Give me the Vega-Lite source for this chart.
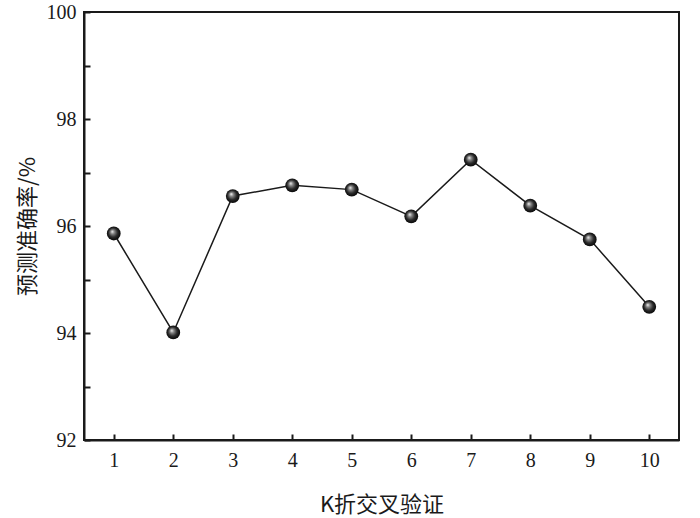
{
  "$schema": "https://vega.github.io/schema/vega-lite/v6.json",
  "autosize": "none",
  "width": 595,
  "height": 428,
  "padding": {"left": 84, "top": 12, "right": 21, "bottom": 78},
  "background": "white",
  "config": {
    "view": {"stroke": "#1a1a1a", "strokeWidth": 2},
    "axis": {
      "domainColor": "#1a1a1a",
      "domainWidth": 2,
      "tickColor": "#1a1a1a",
      "tickWidth": 2,
      "tickSize": -6,
      "grid": false,
      "labelFont": "Liberation Serif",
      "labelFontSize": 20,
      "labelColor": "#1a1a1a",
      "titleFont": "Noto Sans CJK SC",
      "titleFontSize": 22,
      "titleFontWeight": "normal",
      "titleColor": "#1a1a1a"
    }
  },
  "data": {
    "values": [
      {"k": 1, "acc": 95.86},
      {"k": 2, "acc": 94.01},
      {"k": 3, "acc": 96.56},
      {"k": 4, "acc": 96.76},
      {"k": 5, "acc": 96.68},
      {"k": 6, "acc": 96.18},
      {"k": 7, "acc": 97.24},
      {"k": 8, "acc": 96.38},
      {"k": 9, "acc": 95.75},
      {"k": 10, "acc": 94.49}
    ]
  },
  "encoding": {
    "x": {
      "field": "k",
      "type": "quantitative",
      "scale": {"domain": [0.5, 10.5], "nice": false, "zero": false},
      "axis": {
        "title": "K折交叉验证",
        "values": [1, 2, 3, 4, 5, 6, 7, 8, 9, 10],
        "labelPadding": 16,
        "titlePadding": 24,
        "labelFlush": false
      }
    },
    "y": {
      "field": "acc",
      "type": "quantitative",
      "scale": {"domain": [92, 100], "nice": false, "zero": false},
      "axis": {
        "title": "预测准确率/%",
        "values": [92, 93, 94, 95, 96, 97, 98, 99, 100],
        "labelExpr": "datum.value % 2 == 0 ? datum.label : ''",
        "labelPadding": 14,
        "titlePadding": 7,
        "labelFlush": false
      }
    }
  },
  "layer": [
    {"mark": {"type": "line", "color": "#1a1a1a", "strokeWidth": 1.5}},
    {
      "mark": {
        "type": "point",
        "shape": "circle",
        "filled": true,
        "size": 190,
        "opacity": 1,
        "color": {
          "gradient": "radial",
          "x1": 0.38, "y1": 0.35, "r1": 0,
          "x2": 0.5, "y2": 0.5, "r2": 0.55,
          "stops": [
            {"offset": 0, "color": "#ffffff"},
            {"offset": 0.25, "color": "#8a8a8a"},
            {"offset": 0.6, "color": "#2a2a2a"},
            {"offset": 1, "color": "#000000"}
          ]
        }
      }
    }
  ]
}
